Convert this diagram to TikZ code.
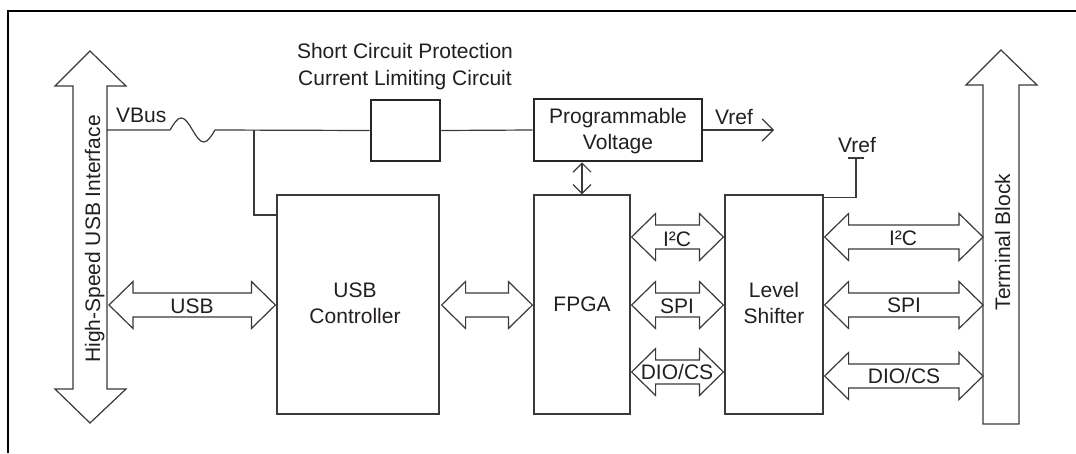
\documentclass[tikz,border=0pt]{standalone}
\usepackage{fontspec}
\setmainfont{Liberation Sans}
\usetikzlibrary{arrows.meta,calc}
\definecolor{ln}{HTML}{3A3A3A}
\definecolor{tx}{HTML}{231F20}
\tikzset{
  box/.style={draw=ln, line width=1.2pt, inner sep=0pt, fill=white},
  thickbox/.style={draw=black!85, line width=2.6pt, inner sep=0pt, fill=white},
  wire/.style={draw=ln, line width=1.2pt},
  fat/.style={draw=ln, line width=1.2pt, line join=miter, fill=white},
  lbl/.style={text=tx, font=\fontsize{21}{26}\selectfont, inner sep=0pt, anchor=base},
  barb/.style={line width=1.2pt, draw=ln},
}
\newcommand\fatarrow[2]{%
  \draw[fat] let \p1=#1, \p2=#2 in
    (\x1,\y1) -- ++(24pt,23.5pt) -- ++(0pt,-11.5pt) -- (\x2-24pt,\y1+12pt)
    -- ++(0pt,11.5pt) -- (\x2,\y2) -- ++(-24pt,-23.5pt) -- ++(0pt,11.5pt)
    -- (\x1+24pt,\y1-12pt) -- ++(0pt,-11.5pt) -- cycle;}
\begin{document}
\begin{tikzpicture}[x=1pt,y=-1pt]
\useasboundingbox[fill=white] (0,0) rectangle (1076,453);
% frame
\draw[line width=2.8pt, black] (8,453) -- (8,11) -- (1076,11);

% big arrows
\draw[fat] (73,86) -- (55,86) -- (90,51) -- (126,86) -- (107,86) -- (107,389)
  -- (126,389) -- (90,423) -- (55,389) -- (73,389) -- cycle;
\node[lbl, rotate=90] (hs) at (100,239) {High-Speed USB Interface};
\draw[fat] (983,424) -- (983,85) -- (966,85) -- (1001,50) -- (1037,85)
  -- (1019,85) -- (1019,424) -- cycle;
\node[lbl, rotate=90] (tb) at (1010,242) {Terminal Block};

% boxes
\node[box, minimum width=162pt, minimum height=219pt] (usbc) at (358,304.5) {};
\node[box, minimum width=96pt, minimum height=219pt] (fpga) at (582,304.5) {};
\node[box, minimum width=98pt, minimum height=219pt] (ls) at (774,304.5) {};
\node[thickbox, minimum width=69pt, minimum height=61pt] (scp) at (405.5,130.5) {};
\node[thickbox, minimum width=168pt, minimum height=62pt] (pv) at (618,130) {};

% labels
\node[lbl] (usbt1) at (355,297) {USB};
\node[lbl] (usbt2) at (355,323) {Controller};
\node[lbl] (fpgat) at (582,311) {FPGA};
\node[lbl] (lst1) at (774,297) {Level};
\node[lbl] (lst2) at (774,323) {Shifter};
\node[lbl] (pvt1) at (618,123) {Programmable};
\node[lbl] (pvt2) at (618,149) {Voltage};
\node[lbl] (sct1) at (405,58) {Short Circuit Protection};
\node[lbl] (sct2) at (405,85) {Current Limiting Circuit};
\node[lbl, anchor=base west] (vbus) at (116,122) {VBus};
\node[lbl, anchor=base west] (vref1) at (715,124) {Vref};
\node[lbl, anchor=base west] (vref2) at (838,152) {Vref};

% VBus wiring
\coordinate (hsR) at (107,130);
\coordinate (f1) at (170,130);
\coordinate (f2) at (215,130);
\coordinate (j) at (254,130);
\coordinate (jb) at (254,215);
\draw[wire] (hsR) -- (f1) sin (181.25,118) cos (192.5,130) sin (203.75,142) cos (f2) -- (scp.west);
\draw[wire] (j) -- (jb) -- (usbc.west |- jb);
\draw[wire] (scp.east) -- (pv.west);
\coordinate (vrefend) at (774,130);
\draw[wire, -{Straight Barb[length=11pt,width=22pt]}] (pv.east) -- (vrefend);
\draw[wire, {Straight Barb[length=9pt,width=18pt]}-{Straight Barb[length=9pt,width=18pt]}]
  (fpga.north |- pv.south) -- (fpga.north);
% Vref to level shifter
\coordinate (vr) at (856,158);
\draw[wire] ($(ls.north east)+(0,3)$) -| (vr);
\draw[wire] ($(vr)+(-8,0)$) -- ($(vr)+(8,0)$);

% fat double arrows
\coordinate (usbL) at (109,305);
\fatarrow{(usbL)}{($(usbc.west |- usbL)+(-1,0)$)}
\node[lbl] (usbl) at (192,313) {USB};
\fatarrow{($(usbc.east |- usbL)+(2,0)$)}{($(fpga.west |- usbL)+(-1,0)$)}

\coordinate (i2cy) at (0,237);
\coordinate (spiy) at (0,305);
\coordinate (dioy) at (0,372);
\fatarrow{($(fpga.east |- i2cy)+(1,0)$)}{($(ls.west |- i2cy)+(-1,0)$)}
\fatarrow{($(fpga.east |- spiy)+(1,0)$)}{($(ls.west |- spiy)+(-1,0)$)}
\fatarrow{($(fpga.east |- dioy)+(1,0)$)}{($(ls.west |- dioy)+(-1,0)$)}
\node[lbl] (i2c1) at (677,246) {I²C};
\node[lbl] (spi1) at (677,313) {SPI};
\node[lbl] (dio1) at (677,379) {DIO/CS};

\coordinate (i2cy2) at (0,237);
\coordinate (spiy2) at (0,305);
\coordinate (dioy2) at (0,376);
\coordinate (tbL) at (983,0);
\fatarrow{($(ls.east |- i2cy2)+(1,0)$)}{(tbL |- i2cy2)}
\fatarrow{($(ls.east |- spiy2)+(1,0)$)}{(tbL |- spiy2)}
\fatarrow{($(ls.east |- dioy2)+(1,0)$)}{(tbL |- dioy2)}
\node[lbl] (i2c2) at (903,245) {I²C};
\node[lbl] (spi2) at (904,312) {SPI};
\node[lbl] (dio2) at (904,383) {DIO/CS};
\end{tikzpicture}
\end{document}
